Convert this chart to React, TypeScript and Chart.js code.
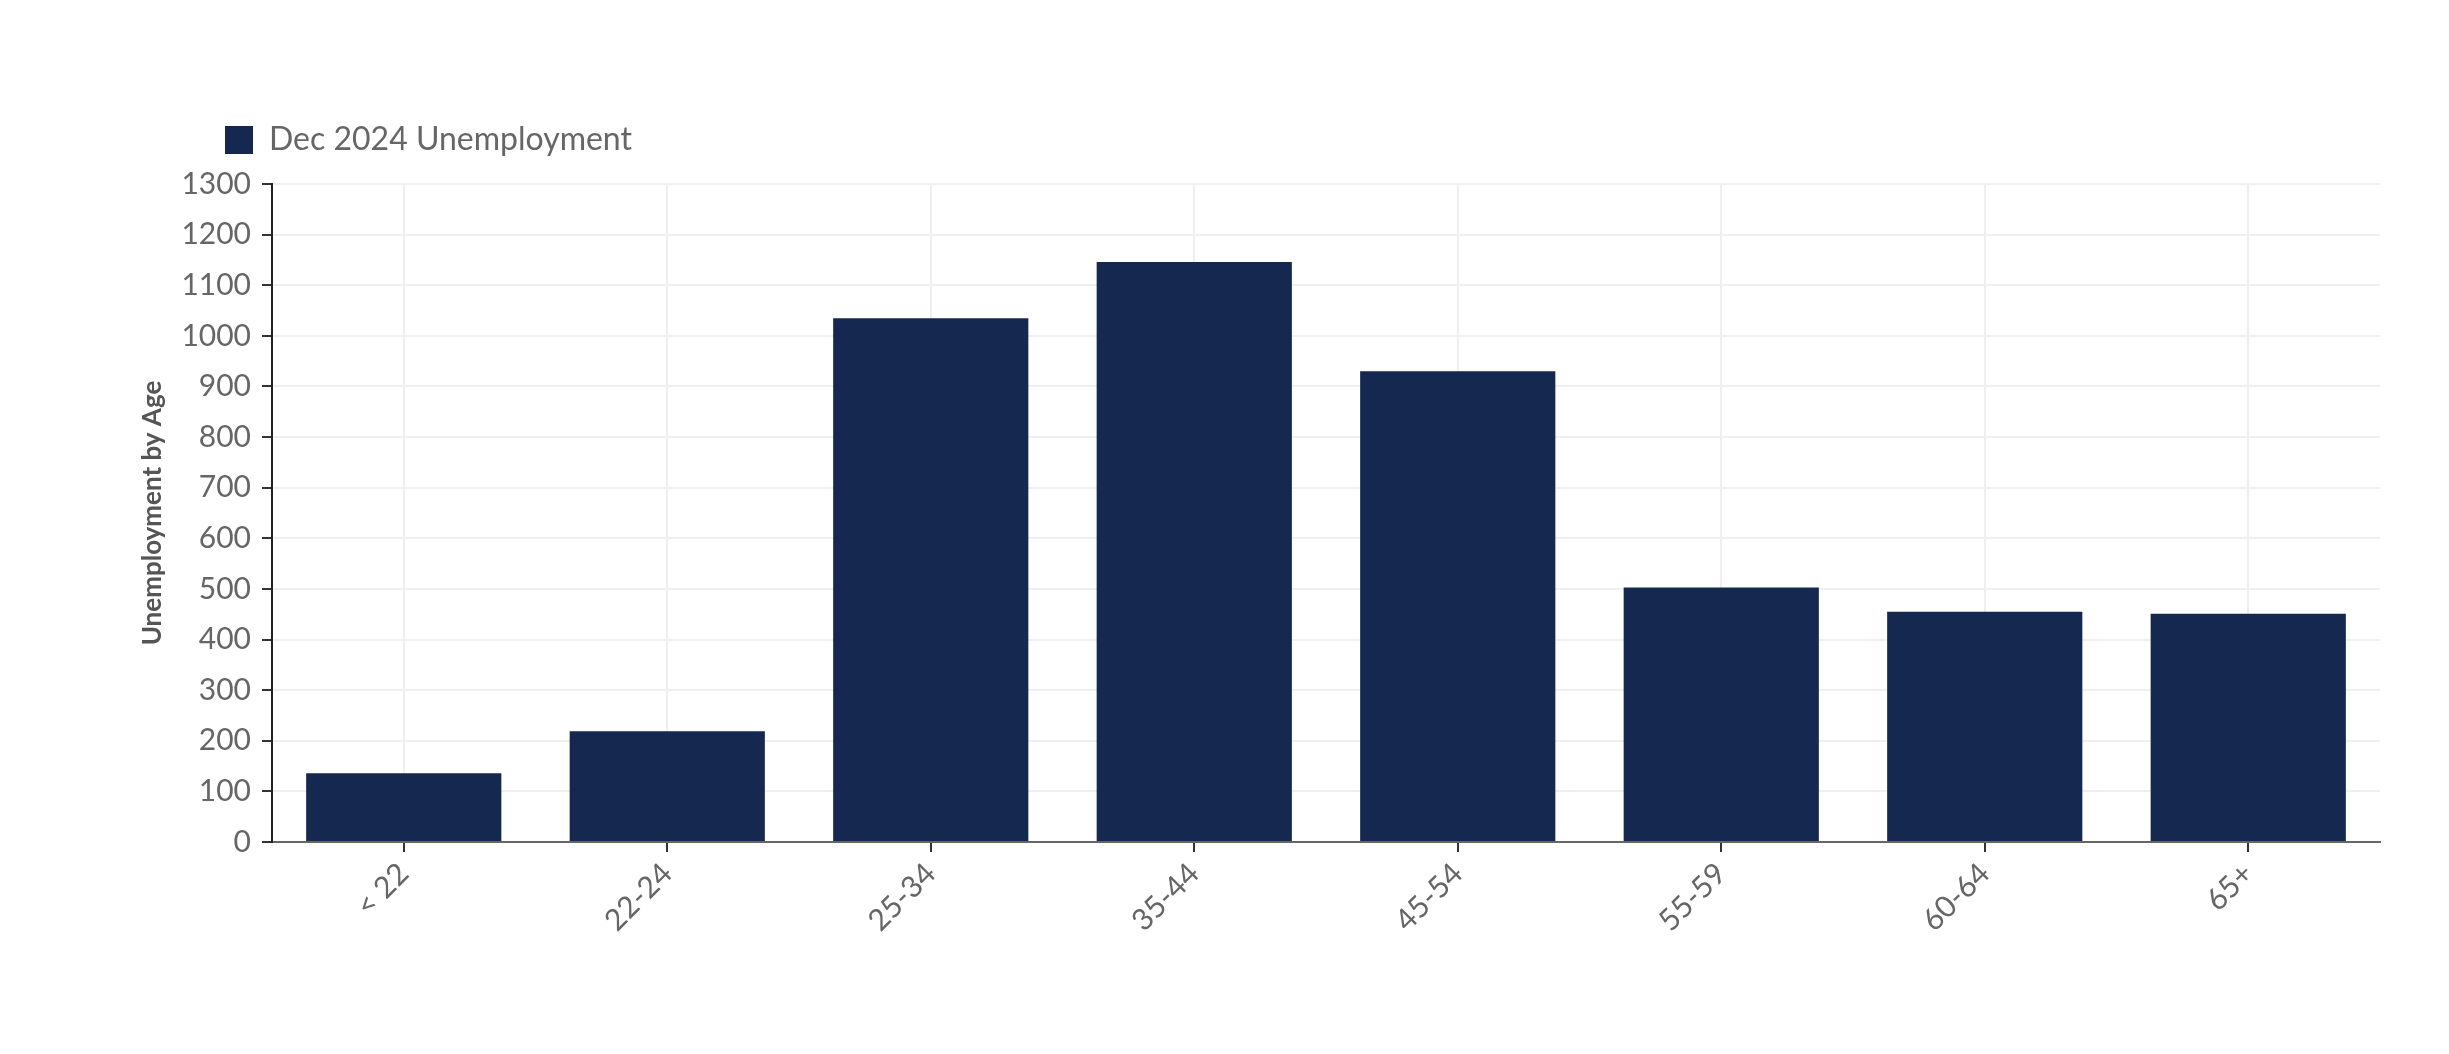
import React, { useEffect, useRef } from "react";
import { Chart, registerables } from "chart.js";

Chart.register(...registerables);

const categories: string[] = ["< 22", "22-24", "25-34", "35-44", "45-54", "55-59", "60-64", "65+"];
const unemployment: number[] = [136, 219, 1035, 1146, 930, 503, 455, 451];
const seriesLabel = "Dec 2024 Unemployment";
const yAxisTitle = "Unemployment by Age";
const yMin = 0;
const yMax = 1300;
const yStep = 100;

const FONT = "Lato, 'Noto Sans', sans-serif";

const legendShift = {
  id: "legendShift",
  afterLayout(chart: any) {
    if (chart.legend) {
      chart.legend.left = 207;
    }
  },
};

export default function App() {
  const ref = useRef<HTMLCanvasElement | null>(null);

  useEffect(() => {
    if (!ref.current) return;
    const chart = new Chart(ref.current, {
      type: "bar",
      data: {
        labels: categories,
        datasets: [
          {
            label: seriesLabel,
            data: unemployment,
            backgroundColor: "#152850",
            borderWidth: 0,
            categoryPercentage: 0.8,
            barPercentage: 0.926,
          },
        ],
      },
      options: {
        responsive: false,
        animation: false,
        layout: { padding: { top: 106, left: 125, right: 61, bottom: 0 } },
        plugins: {
          legend: {
            display: true,
            position: "top",
            align: "start",
            labels: {
              boxWidth: 28,
              boxHeight: 28,
              padding: 10,
              color: "#666",
              font: { family: FONT, size: 32 },
            },
          },
          tooltip: { enabled: false },
        },
        scales: {
          x: {
            type: "category",
            grid: {
              offset: false,
              color: "#efefef",
              lineWidth: 2,
              tickColor: "#333",
              tickWidth: 2,
              tickLength: 10,
            },
            border: { display: true, color: "#666", width: 2 },
            ticks: {
              color: "#666",
              font: { family: FONT, size: 30 },
              minRotation: 45,
              maxRotation: 45,
              padding: 4,
            },
            afterFit: (s: any) => {
              s.height = 204;
            },
          },
          pad: {
            type: "linear",
            position: "top",
            display: true,
            grid: { display: false },
            ticks: { display: false },
            border: { display: false },
            afterFit: (s: any) => {
              s.height = 18;
            },
          },
          y: {
            type: "linear",
            min: yMin,
            max: yMax,
            grid: {
              color: "#efefef",
              lineWidth: 2,
              tickColor: "#333",
              tickWidth: 2,
              tickLength: 10,
            },
            border: { display: true, color: "#222", width: 2 },
            ticks: {
              stepSize: yStep,
              color: "#666",
              font: { family: FONT, size: 30 },
              padding: 11,
              callback: (v: any) => String(v),
            },
            title: {
              display: true,
              text: yAxisTitle,
              color: "#555",
              font: { family: FONT, size: 26, weight: "bold" },
            },
            afterFit: (s: any) => {
              s.width = 139;
            },
          },
        },
      },
      plugins: [legendShift],
    } as any);
    return () => chart.destroy();
  }, []);

  return (
    <canvas
      ref={ref}
      width={2433}
      height={1038}
      style={{ display: "block", width: "2433px", height: "1038px" }}
    />
  );
}
